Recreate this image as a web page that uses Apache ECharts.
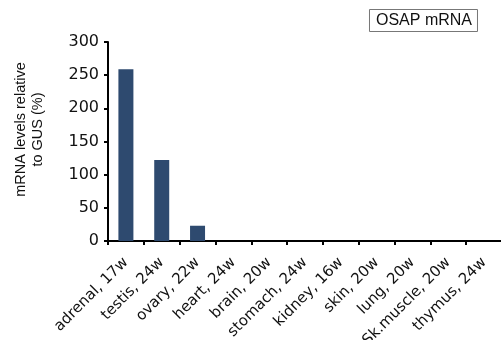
<!DOCTYPE html>
<html><head><meta charset="utf-8">
<script src="https://cdn.jsdelivr.net/npm/echarts@6/dist/echarts.min.js"></script>
<style>html,body{margin:0;padding:0;background:#fff}#c{width:501px;height:340px}</style>
</head><body><div id="c"></div>
<script>
const categories = ['adrenal, 17w','testis, 24w','ovary, 22w','heart, 24w','brain, 20w','stomach, 24w','kidney, 16w','skin, 20w','lung, 20w','Sk.muscle, 20w','thymus, 24w'];
const values = [259, 122, 23, 0, 0, 0, 0, 0, 0, 0, 0];
const yTicks = {min: 0, max: 300, interval: 50};
const titleText = 'OSAP mRNA';
const yName = 'mRNA levels relative\nto GUS (%)';
const sans = 'Liberation Sans, Arial, sans-serif';
const wide = 'DejaVu Sans, sans-serif';
const chart = echarts.init(document.getElementById('c'), null, {renderer: 'canvas'});
chart.setOption({
  animation: false,
  backgroundColor: '#fff',
  title: {
    text: titleText, right: 23, top: 9,
    borderColor: '#777', borderWidth: 1, padding: [4, 6, 3, 7],
    textStyle: {fontFamily: sans, fontSize: 16, fontWeight: 'normal', color: '#111'}
  },
  grid: {left: 108, top: 42, bottom: 99, right: -1, containLabel: false, outerBoundsMode: 'none'},
  xAxis: {
    type: 'category', data: categories, boundaryGap: true,
    axisLine: {lineStyle: {color: '#000', width: 2}},
    axisTick: {show: true, length: 4, lineStyle: {color: '#000', width: 2}},
    axisLabel: {interval: 0, rotate: 45, margin: 19, color: '#111', fontFamily: wide, fontSize: 15}
  },
  yAxis: {
    type: 'value', min: yTicks.min, max: yTicks.max, interval: yTicks.interval,
    name: yName, nameLocation: 'middle', nameGap: 62,
    nameTextStyle: {fontFamily: sans, fontSize: 14.5, color: '#111', lineHeight: 17, padding: [0, 0, 0, 24]},
    splitLine: {show: false},
    axisLine: {show: true, lineStyle: {color: '#000', width: 2}},
    axisTick: {show: true, length: 4, lineStyle: {color: '#000', width: 2}},
    axisLabel: {margin: 9, color: '#111', fontFamily: wide, fontSize: 16}
  },
  series: [{
    type: 'bar', data: values, barWidth: 15,
    itemStyle: {color: '#2e4a6f'}
  }]
});
</script></body></html>
